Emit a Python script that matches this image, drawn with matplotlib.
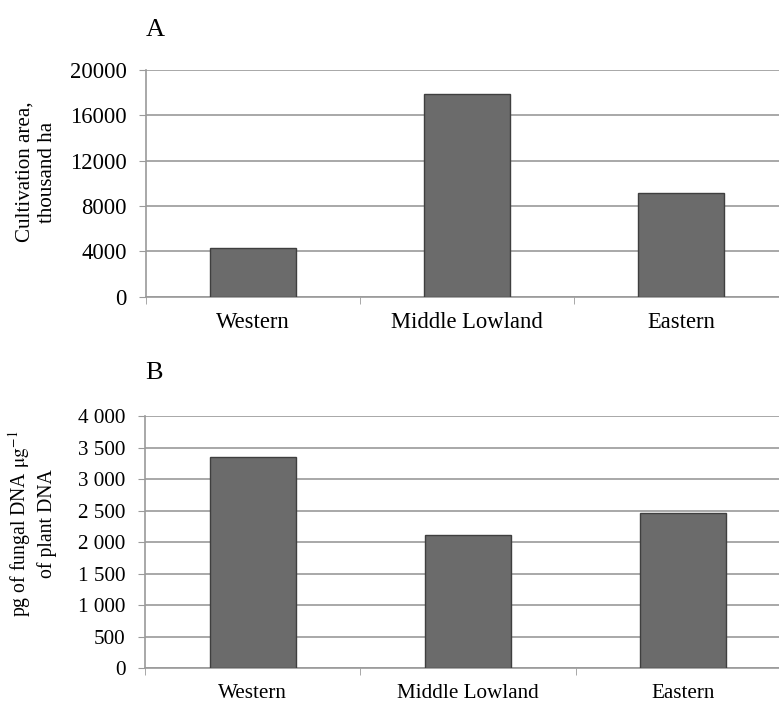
import matplotlib.pyplot as plt
from matplotlib.ticker import FuncFormatter

# datos
regiones = ["Western", "Middle Lowland", "Eastern"]
area_cultivo = [4270, 17860, 9120]          # mil ha
adn_fungico = [3355, 2115, 2458]            # pg de ADN fúngico por µg de ADN vegetal
ticks_a = [0, 4000, 8000, 12000, 16000, 20000]
ticks_b = [0, 500, 1000, 1500, 2000, 2500, 3000, 3500, 4000]

plt.rcParams["font.family"] = ["Liberation Serif", "DejaVu Serif"]
plt.rcParams["mathtext.fontset"] = "stix"

W, H = 779, 702
fig = plt.figure(figsize=(W / 100, H / 100), dpi=100)

BAR_COLOR = "#6b6b6b"
EDGE = "#3f3f3f"
GRID = "#9a9a9a"


def panel(rect, valores, yticks, fmt, ylabel, letra, label_xy, fs, fs_label, letra_dy):
    ax = fig.add_axes(rect)
    xs = [i + 0.5 for i in range(len(regiones))]
    ax.bar(xs, valores, width=0.4, color=BAR_COLOR, edgecolor=EDGE, linewidth=1, zorder=3)
    ax.set_xlim(0, len(regiones))
    ax.set_ylim(yticks[0], yticks[-1])
    ax.set_yticks(yticks)
    ax.yaxis.set_major_formatter(FuncFormatter(fmt))
    ax.set_xticks(xs)
    ax.set_xticklabels(regiones)
    ax.set_xticks(range(len(regiones) + 1), minor=True)
    ax.tick_params(axis="x", which="major", length=0, pad=11, labelsize=fs)
    ax.tick_params(axis="x", which="minor", length=5, color=GRID, direction="out")
    ax.tick_params(axis="y", length=5, color=GRID, pad=9, labelsize=fs)
    ax.grid(axis="y", color=GRID, linewidth=1.2, zorder=0)
    for s in ("top", "right"):
        ax.spines[s].set_visible(False)
    for s in ("left", "bottom"):
        ax.spines[s].set_color(GRID)
        ax.spines[s].set_linewidth(1.2)
    ax.set_ylabel(ylabel, fontsize=fs_label, linespacing=1.3)
    ax.yaxis.set_label_coords(*label_xy)
    ax.text(0.0, 1.0 + letra_dy, letra, transform=ax.transAxes, fontsize=19,
            ha="left", va="bottom")
    return ax


def fmt_a(v, pos):
    return f"{int(v)}"


def fmt_b(v, pos):
    return f"{int(v):,}".replace(",", " ")


panel([146 / W, 1 - 296.7 / H, 642 / W, 226.7 / H], area_cultivo, ticks_a, fmt_a,
      "Cultivation area,\nthousand ha", "A", (-0.138, 0.55), 16.3, 15.1, 29 / 226.7)

panel([145 / W, 1 - 668.3 / H, 646 / W, 252.3 / H], adn_fungico, ticks_b, fmt_b,
      "pg of fungal DNA $\\mathrm{\\mu g^{-1}}$\nof plant DNA", "B", (-0.136, 0.575),
      15.2, 14.2, 32 / 252.3)

fig.savefig("out.png", dpi=100)
